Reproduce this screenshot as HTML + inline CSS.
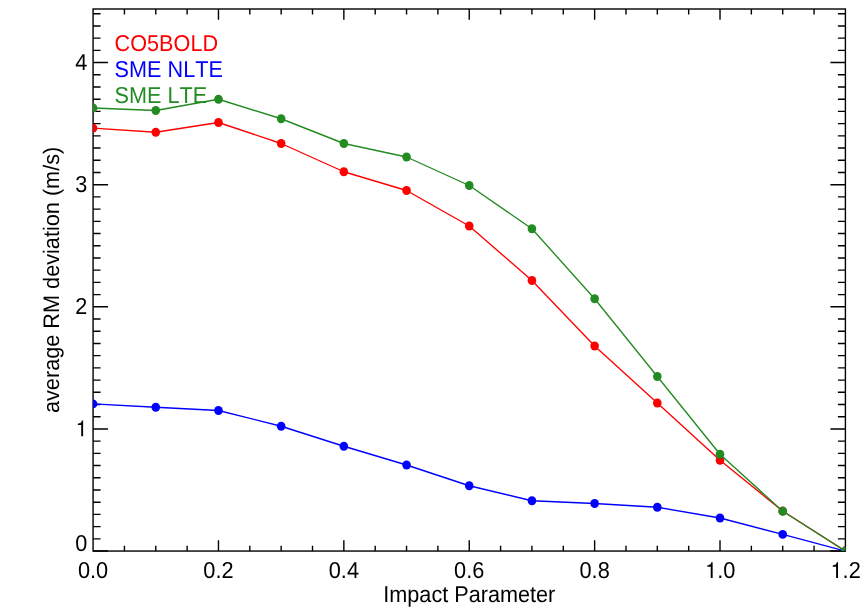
<!DOCTYPE html>
<html><head><meta charset="utf-8"><title>plot</title>
<style>
html,body{margin:0;padding:0;background:#fff;}
body{width:865px;height:616px;overflow:hidden;}
svg{display:block;will-change:transform;}
text{font-family:"Liberation Sans",sans-serif;font-size:21.5px;font-kerning:none;text-rendering:geometricPrecision;}
</style></head><body>
<svg width="865" height="616" viewBox="0 0 865 616">
<rect x="0" y="0" width="865" height="616" fill="#ffffff"/>
<defs><clipPath id="c"><rect x="93.08" y="9.00" width="752.32" height="542.05"/></clipPath></defs>
<g stroke="#000" stroke-width="1.4" fill="none" stroke-linecap="butt">
<rect x="93.08" y="9.00" width="752.32" height="542.05"/>
<path d="M124.43 551.05v-5.40M124.43 9.00v5.40M155.77 551.05v-5.40M155.77 9.00v5.40M187.12 551.05v-5.40M187.12 9.00v5.40M218.47 551.05v-10.80M218.47 9.00v10.80M249.81 551.05v-5.40M249.81 9.00v5.40M281.16 551.05v-5.40M281.16 9.00v5.40M312.51 551.05v-5.40M312.51 9.00v5.40M343.85 551.05v-10.80M343.85 9.00v10.80M375.20 551.05v-5.40M375.20 9.00v5.40M406.55 551.05v-5.40M406.55 9.00v5.40M437.89 551.05v-5.40M437.89 9.00v5.40M469.24 551.05v-10.80M469.24 9.00v10.80M500.59 551.05v-5.40M500.59 9.00v5.40M531.93 551.05v-5.40M531.93 9.00v5.40M563.28 551.05v-5.40M563.28 9.00v5.40M594.63 551.05v-10.80M594.63 9.00v10.80M625.97 551.05v-5.40M625.97 9.00v5.40M657.32 551.05v-5.40M657.32 9.00v5.40M688.67 551.05v-5.40M688.67 9.00v5.40M720.01 551.05v-10.80M720.01 9.00v10.80M751.36 551.05v-5.40M751.36 9.00v5.40M782.71 551.05v-5.40M782.71 9.00v5.40M814.05 551.05v-5.40M814.05 9.00v5.40M93.08 551.05h15.00M845.40 551.05h-15.00M93.08 538.84h7.50M845.40 538.84h-7.50M93.08 526.63h7.50M845.40 526.63h-7.50M93.08 514.41h7.50M845.40 514.41h-7.50M93.08 502.20h7.50M845.40 502.20h-7.50M93.08 489.99h7.50M845.40 489.99h-7.50M93.08 477.78h7.50M845.40 477.78h-7.50M93.08 465.57h7.50M845.40 465.57h-7.50M93.08 453.35h7.50M845.40 453.35h-7.50M93.08 441.14h7.50M845.40 441.14h-7.50M93.08 428.93h15.00M845.40 428.93h-15.00M93.08 416.72h7.50M845.40 416.72h-7.50M93.08 404.51h7.50M845.40 404.51h-7.50M93.08 392.29h7.50M845.40 392.29h-7.50M93.08 380.08h7.50M845.40 380.08h-7.50M93.08 367.87h7.50M845.40 367.87h-7.50M93.08 355.66h7.50M845.40 355.66h-7.50M93.08 343.45h7.50M845.40 343.45h-7.50M93.08 331.23h7.50M845.40 331.23h-7.50M93.08 319.02h7.50M845.40 319.02h-7.50M93.08 306.81h15.00M845.40 306.81h-15.00M93.08 294.60h7.50M845.40 294.60h-7.50M93.08 282.39h7.50M845.40 282.39h-7.50M93.08 270.17h7.50M845.40 270.17h-7.50M93.08 257.96h7.50M845.40 257.96h-7.50M93.08 245.75h7.50M845.40 245.75h-7.50M93.08 233.54h7.50M845.40 233.54h-7.50M93.08 221.33h7.50M845.40 221.33h-7.50M93.08 209.11h7.50M845.40 209.11h-7.50M93.08 196.90h7.50M845.40 196.90h-7.50M93.08 184.69h15.00M845.40 184.69h-15.00M93.08 172.48h7.50M845.40 172.48h-7.50M93.08 160.27h7.50M845.40 160.27h-7.50M93.08 148.05h7.50M845.40 148.05h-7.50M93.08 135.84h7.50M845.40 135.84h-7.50M93.08 123.63h7.50M845.40 123.63h-7.50M93.08 111.42h7.50M845.40 111.42h-7.50M93.08 99.21h7.50M845.40 99.21h-7.50M93.08 86.99h7.50M845.40 86.99h-7.50M93.08 74.78h7.50M845.40 74.78h-7.50M93.08 62.57h15.00M845.40 62.57h-15.00M93.08 50.36h7.50M845.40 50.36h-7.50M93.08 38.15h7.50M845.40 38.15h-7.50M93.08 25.93h7.50M845.40 25.93h-7.50M93.08 13.72h7.50M845.40 13.72h-7.50"/>
</g>
<g clip-path="url(#c)"><polyline points="93.08,128.20 155.77,132.25 218.47,122.50 281.16,143.50 343.85,171.75 406.55,190.50 469.24,226.00 531.93,280.50 594.63,346.00 657.32,403.00 720.01,460.25 782.71,511.05 845.40,551.05" fill="none" stroke="#ff0000" stroke-width="1.35" stroke-linejoin="round"/>
<ellipse cx="93.08" cy="128.20" rx="4.3" ry="4.45" fill="#ff0000"/><ellipse cx="155.77" cy="132.25" rx="4.3" ry="4.45" fill="#ff0000"/><ellipse cx="218.47" cy="122.50" rx="4.3" ry="4.45" fill="#ff0000"/><ellipse cx="281.16" cy="143.50" rx="4.3" ry="4.45" fill="#ff0000"/><ellipse cx="343.85" cy="171.75" rx="4.3" ry="4.45" fill="#ff0000"/><ellipse cx="406.55" cy="190.50" rx="4.3" ry="4.45" fill="#ff0000"/><ellipse cx="469.24" cy="226.00" rx="4.3" ry="4.45" fill="#ff0000"/><ellipse cx="531.93" cy="280.50" rx="4.3" ry="4.45" fill="#ff0000"/><ellipse cx="594.63" cy="346.00" rx="4.3" ry="4.45" fill="#ff0000"/><ellipse cx="657.32" cy="403.00" rx="4.3" ry="4.45" fill="#ff0000"/><ellipse cx="720.01" cy="460.25" rx="4.3" ry="4.45" fill="#ff0000"/><ellipse cx="782.71" cy="511.05" rx="4.3" ry="4.45" fill="#ff0000"/><ellipse cx="845.40" cy="551.05" rx="4.3" ry="4.45" fill="#ff0000"/></g>
<g clip-path="url(#c)"><polyline points="93.08,403.90 155.77,407.25 218.47,410.50 281.16,426.25 343.85,446.25 406.55,465.00 469.24,485.75 531.93,500.75 594.63,503.50 657.32,507.25 720.01,518.00 782.71,534.40 845.40,551.05" fill="none" stroke="#0000ff" stroke-width="1.35" stroke-linejoin="round"/>
<ellipse cx="93.08" cy="403.90" rx="4.3" ry="4.45" fill="#0000ff"/><ellipse cx="155.77" cy="407.25" rx="4.3" ry="4.45" fill="#0000ff"/><ellipse cx="218.47" cy="410.50" rx="4.3" ry="4.45" fill="#0000ff"/><ellipse cx="281.16" cy="426.25" rx="4.3" ry="4.45" fill="#0000ff"/><ellipse cx="343.85" cy="446.25" rx="4.3" ry="4.45" fill="#0000ff"/><ellipse cx="406.55" cy="465.00" rx="4.3" ry="4.45" fill="#0000ff"/><ellipse cx="469.24" cy="485.75" rx="4.3" ry="4.45" fill="#0000ff"/><ellipse cx="531.93" cy="500.75" rx="4.3" ry="4.45" fill="#0000ff"/><ellipse cx="594.63" cy="503.50" rx="4.3" ry="4.45" fill="#0000ff"/><ellipse cx="657.32" cy="507.25" rx="4.3" ry="4.45" fill="#0000ff"/><ellipse cx="720.01" cy="518.00" rx="4.3" ry="4.45" fill="#0000ff"/><ellipse cx="782.71" cy="534.40" rx="4.3" ry="4.45" fill="#0000ff"/><ellipse cx="845.40" cy="551.05" rx="4.3" ry="4.45" fill="#0000ff"/></g>
<g clip-path="url(#c)"><polyline points="93.08,108.00 155.77,110.50 218.47,99.25 281.16,118.75 343.85,143.50 406.55,157.00 469.24,185.50 531.93,228.75 594.63,298.75 657.32,376.50 720.01,454.25 782.71,511.25 845.40,551.05" fill="none" stroke="#228b22" stroke-width="1.35" stroke-linejoin="round"/>
<ellipse cx="93.08" cy="108.00" rx="4.3" ry="4.45" fill="#228b22"/><ellipse cx="155.77" cy="110.50" rx="4.3" ry="4.45" fill="#228b22"/><ellipse cx="218.47" cy="99.25" rx="4.3" ry="4.45" fill="#228b22"/><ellipse cx="281.16" cy="118.75" rx="4.3" ry="4.45" fill="#228b22"/><ellipse cx="343.85" cy="143.50" rx="4.3" ry="4.45" fill="#228b22"/><ellipse cx="406.55" cy="157.00" rx="4.3" ry="4.45" fill="#228b22"/><ellipse cx="469.24" cy="185.50" rx="4.3" ry="4.45" fill="#228b22"/><ellipse cx="531.93" cy="228.75" rx="4.3" ry="4.45" fill="#228b22"/><ellipse cx="594.63" cy="298.75" rx="4.3" ry="4.45" fill="#228b22"/><ellipse cx="657.32" cy="376.50" rx="4.3" ry="4.45" fill="#228b22"/><ellipse cx="720.01" cy="454.25" rx="4.3" ry="4.45" fill="#228b22"/><ellipse cx="782.71" cy="511.25" rx="4.3" ry="4.45" fill="#228b22"/><ellipse cx="845.40" cy="551.05" rx="4.3" ry="4.45" fill="#228b22"/></g>
<g fill="#000">
<text transform="translate(93.08,578.20) scale(1.012,1.07)" text-anchor="middle">0.0</text>
<text transform="translate(218.47,578.20) scale(1.012,1.07)" text-anchor="middle">0.2</text>
<text transform="translate(343.85,578.20) scale(1.012,1.07)" text-anchor="middle">0.4</text>
<text transform="translate(469.24,578.20) scale(1.012,1.07)" text-anchor="middle">0.6</text>
<text transform="translate(594.63,578.20) scale(1.012,1.07)" text-anchor="middle">0.8</text>
<path transform="translate(705.09,578.00) scale(0.02176,-0.02223)" d="M259 505V0H347V709H289C258 598 238 583 102 566V505Z"/>
<text transform="translate(717.19,578.20) scale(1.012,1.07)">.0</text>
<path transform="translate(830.48,578.00) scale(0.02176,-0.02223)" d="M259 505V0H347V709H289C258 598 238 583 102 566V505Z"/>
<text transform="translate(842.58,578.20) scale(1.012,1.07)">.2</text>
<text transform="translate(87.40,551.15) scale(1.007,1.07)" text-anchor="end">0</text>
<path transform="translate(75.61,436.33) scale(0.02165,-0.02223)" d="M259 505V0H347V709H289C258 598 238 583 102 566V505Z"/>
<text transform="translate(87.40,314.21) scale(1.007,1.07)" text-anchor="end">2</text>
<text transform="translate(87.40,192.09) scale(1.007,1.07)" text-anchor="end">3</text>
<text transform="translate(87.40,69.97) scale(1.007,1.07)" text-anchor="end">4</text>
<text transform="translate(469.30,601.80) scale(1.007,1.07)" text-anchor="middle">Impact Parameter</text>
<text transform="translate(58.60,279.90) rotate(-90) scale(1.0085,1.045)" text-anchor="middle">average RM deviation (m/s)</text>
</g>
<text transform="translate(114.60,50.70) scale(1.007,1.07)" fill="#ff0000">CO5BOLD</text>
<text transform="translate(114.60,76.90) scale(1.007,1.07)" fill="#0000ff">SME NLTE</text>
<text transform="translate(114.60,103.00) scale(1.007,1.07)" fill="#228b22">SME LTE</text>
</svg>
</body></html>
